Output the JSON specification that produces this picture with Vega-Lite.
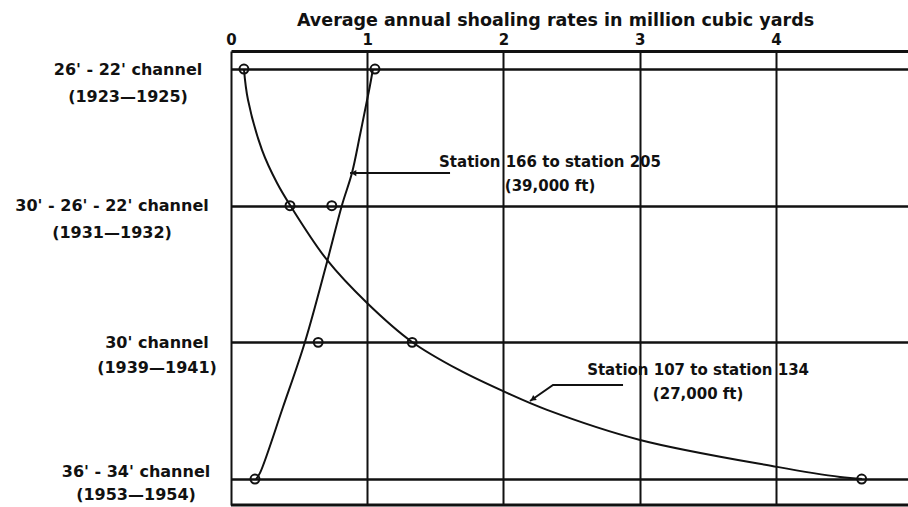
{
  "$schema": "https://vega.github.io/schema/vega-lite/v6.json",
  "width": 677,
  "height": 454,
  "autosize": {"type": "none"},
  "padding": {"left": 231, "top": 51, "right": 0, "bottom": 2},
  "background": "white",
  "config": {
    "view": {"stroke": null},
    "font": "DejaVu Sans",
    "text": {"font": "DejaVu Sans", "fontWeight": "bold", "fontSize": 15, "color": "#111"}
  },
  "datasets": {
    "curves": [
      {"s": "A", "x": 1.042, "y": 0},
      {"s": "A", "x": 1.021, "y": 0.117},
      {"s": "A", "x": 0.999, "y": 0.227},
      {"s": "A", "x": 0.947, "y": 0.483},
      {"s": "A", "x": 0.888, "y": 0.761},
      {"s": "A", "x": 0.815, "y": 0.995},
      {"s": "A", "x": 0.705, "y": 1.412},
      {"s": "A", "x": 0.543, "y": 1.997},
      {"s": "A", "x": 0.382, "y": 2.473},
      {"s": "A", "x": 0.213, "y": 2.955},
      {"s": "A", "x": 0.184, "y": 3.0},
      {"s": "B", "x": 0.095, "y": 0},
      {"s": "B", "x": 0.125, "y": 0.227},
      {"s": "B", "x": 0.228, "y": 0.593},
      {"s": "B", "x": 0.338, "y": 0.834},
      {"s": "B", "x": 0.433, "y": 0.995},
      {"s": "B", "x": 0.705, "y": 1.397},
      {"s": "B", "x": 0.999, "y": 1.712},
      {"s": "B", "x": 1.329, "y": 1.997},
      {"s": "B", "x": 1.674, "y": 2.202},
      {"s": "B", "x": 2.026, "y": 2.37},
      {"s": "B", "x": 2.32, "y": 2.494},
      {"s": "B", "x": 3.003, "y": 2.714},
      {"s": "B", "x": 4.009, "y": 2.911},
      {"s": "B", "x": 4.471, "y": 2.985},
      {"s": "B", "x": 4.633, "y": 3.0}
    ],
    "pts": [
      {"s": "A", "x": 1.057, "y": 0},
      {"s": "A", "x": 0.74, "y": 1},
      {"s": "A", "x": 0.64, "y": 2},
      {"s": "A", "x": 0.176, "y": 3},
      {"s": "B", "x": 0.095, "y": 0},
      {"s": "B", "x": 0.433, "y": 1},
      {"s": "B", "x": 1.33, "y": 2},
      {"s": "B", "x": 4.63, "y": 3}
    ],
    "leaders": [
      {"s": "L1", "o": 1, "x": 0.874, "y": 0.761},
      {"s": "L1", "o": 2, "x": 1.608, "y": 0.761},
      {"s": "L2", "o": 1, "x": 2.195, "y": 2.429},
      {"s": "L2", "o": 2, "x": 2.364, "y": 2.312},
      {"s": "L2", "o": 3, "x": 2.878, "y": 2.312}
    ],
    "heads": [
      {"s": "L1", "x": 0.9, "y": 0.761, "a": 270},
      {"s": "L2", "x": 2.215, "y": 2.415, "a": 235}
    ],
    "labs": [
      {"k": 1, "y": 0, "t": "26' - 22' channel\n(1923—1925)"},
      {"k": 2, "y": 1, "t": "30' - 26' - 22' channel\n(1931—1932)"},
      {"k": 3, "y": 2, "t": "30' channel\n(1939—1941)"},
      {"k": 4, "y": 3, "t": "36' - 34' channel\n(1953—1954)"}
    ],
    "notes": [
      {"x": 2.342, "y": 0.68, "t": "Station 166 to station 205\n(39,000 ft)"},
      {"x": 3.429, "y": 2.202, "t": "Station 107 to station 134\n(27,000 ft)"}
    ]
  },
  "layer": [
    {
      "encoding": {
        "x": {
          "field": "x",
          "type": "quantitative",
          "scale": {"domain": [0, 4.97], "nice": false, "zero": false},
          "axis": {
            "orient": "top",
            "values": [0, 1, 2, 3, 4],
            "format": "d",
            "grid": true,
            "gridColor": "#111",
            "gridWidth": 2,
            "gridOpacity": 1,
            "domain": true,
            "domainColor": "#111",
            "domainWidth": 3,
            "ticks": false,
            "labelPadding": 4,
            "labelFont": "DejaVu Sans",
            "labelFontWeight": "bold",
            "labelFontSize": 15,
            "labelColor": "#111",
            "labelFlush": false,
            "title": "Average annual shoaling rates in million cubic yards",
            "titleFont": "DejaVu Sans",
            "titleFontSize": 17.5,
            "titleFontWeight": "bold",
            "titleColor": "#111",
            "titleX": 324,
            "titleY": -31,
            "titleAlign": "center",
            "titleBaseline": "middle"
          }
        },
        "y": {
          "field": "y",
          "type": "quantitative",
          "scale": {"domain": [-0.132, 3.19], "reverse": true, "nice": false, "zero": false},
          "axis": {
            "values": [0, 1, 2, 3],
            "grid": true,
            "gridColor": "#111",
            "gridWidth": 2.5,
            "gridOpacity": 1,
            "domain": false,
            "ticks": false,
            "labels": false,
            "title": null
          }
        }
      },
      "layer": [
        {
          "data": {"name": "curves"},
          "mark": {"type": "line", "interpolate": "catmull-rom", "color": "#111", "strokeWidth": 2},
          "encoding": {
            "detail": {"field": "s", "type": "nominal"},
            "order": {"field": "y", "type": "quantitative"}
          }
        },
        {
          "data": {"name": "pts"},
          "mark": {"type": "point", "shape": "circle", "filled": false, "size": 80, "strokeWidth": 2, "color": "#111", "opacity": 1}
        },
        {
          "data": {"name": "leaders"},
          "mark": {"type": "line", "color": "#111", "strokeWidth": 2},
          "encoding": {
            "detail": {"field": "s", "type": "nominal"},
            "order": {"field": "o", "type": "quantitative"}
          }
        },
        {
          "data": {"name": "heads"},
          "mark": {"type": "point", "shape": "triangle-up", "filled": true, "size": 40, "color": "#111", "opacity": 1},
          "encoding": {"angle": {"field": "a", "type": "quantitative", "scale": null}}
        },
        {
          "data": {"name": "notes"},
          "mark": {"type": "text", "align": "center", "baseline": "middle", "lineBreak": "\n", "lineHeight": 24, "fontSize": 15},
          "encoding": {"text": {"field": "t"}}
        }
      ]
    },
    {
      "data": {"name": "labs"},
      "transform": [{"filter": "datum.k == 1"}],
      "mark": {"type": "text", "align": "center", "baseline": "middle", "lineBreak": "\n", "lineHeight": 27, "dx": -103, "dy": 1, "fontSize": 16},
      "encoding": {
        "x": {"datum": 0},
        "y": {"field": "y", "type": "quantitative", "scale": {"domain": [-0.132, 3.19], "reverse": true, "nice": false, "zero": false}},
        "text": {"field": "t"}
      }
    },
    {
      "data": {"name": "labs"},
      "transform": [{"filter": "datum.k == 2"}],
      "mark": {"type": "text", "align": "center", "baseline": "middle", "lineBreak": "\n", "lineHeight": 27, "dx": -119, "dy": 0, "fontSize": 16},
      "encoding": {
        "x": {"datum": 0},
        "y": {"field": "y", "type": "quantitative", "scale": {"domain": [-0.132, 3.19], "reverse": true, "nice": false, "zero": false}},
        "text": {"field": "t"}
      }
    },
    {
      "data": {"name": "labs"},
      "transform": [{"filter": "datum.k == 3"}],
      "mark": {"type": "text", "align": "center", "baseline": "middle", "lineBreak": "\n", "lineHeight": 25, "dx": -74, "dy": 1, "fontSize": 16},
      "encoding": {
        "x": {"datum": 0},
        "y": {"field": "y", "type": "quantitative", "scale": {"domain": [-0.132, 3.19], "reverse": true, "nice": false, "zero": false}},
        "text": {"field": "t"}
      }
    },
    {
      "data": {"name": "labs"},
      "transform": [{"filter": "datum.k == 4"}],
      "mark": {"type": "text", "align": "center", "baseline": "middle", "lineBreak": "\n", "lineHeight": 23, "dx": -95, "dy": -7, "fontSize": 16},
      "encoding": {
        "x": {"datum": 0},
        "y": {"field": "y", "type": "quantitative", "scale": {"domain": [-0.132, 3.19], "reverse": true, "nice": false, "zero": false}},
        "text": {"field": "t"}
      }
    },
    {
      "data": {"values": [{}]},
      "mark": {"type": "rule", "color": "#111", "strokeWidth": 3},
      "encoding": {
        "x": {"datum": 0},
        "x2": {"datum": 4.97},
        "y": {"datum": 3.19}
      }
    }
  ]
}
